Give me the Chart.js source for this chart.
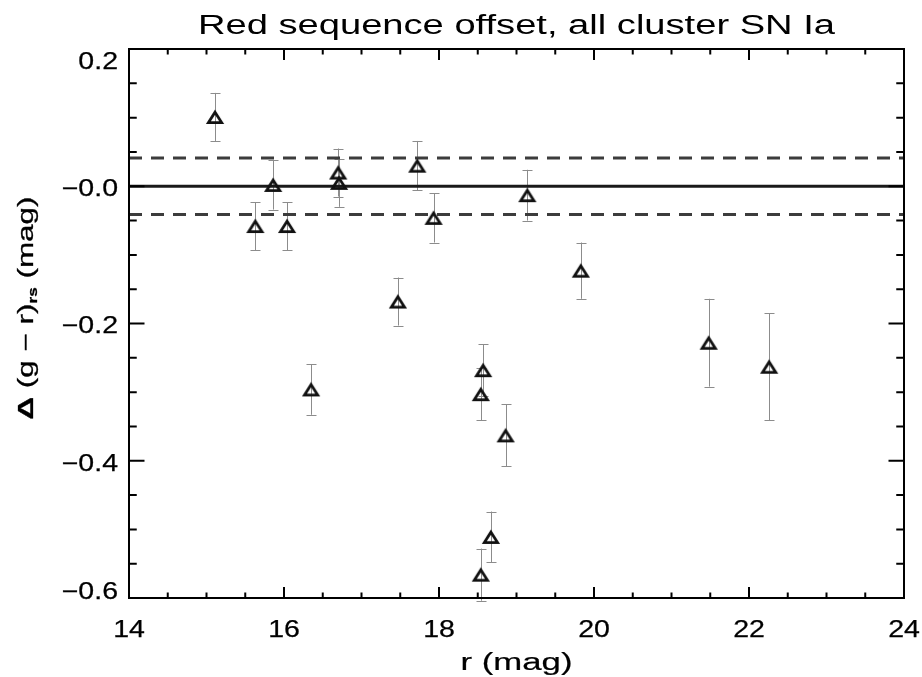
<!DOCTYPE html>
<html>
<head>
<meta charset="utf-8">
<title>Red sequence offset</title>
<script src="https://cdn.jsdelivr.net/npm/chart.js@4.4.1/dist/chart.umd.min.js"></script>
<style>
  html, body { margin: 0; padding: 0; background: #fff; }
  canvas { display: block; }
</style>
</head>
<body>
<canvas id="rsOffset" width="922" height="677"></canvas>
<script>
// r-band magnitude of each cluster SN Ia host
const rMag = [15.11, 15.63, 15.86, 16.04, 16.35, 16.70, 16.71, 17.47, 17.72, 17.93,
              18.54, 18.57, 18.54, 18.67, 18.86, 19.14, 19.83, 21.48, 22.26];
// offset from the cluster red sequence, Δ(g − r)
const colorOffset = [0.101, -0.058, 0.002, -0.058, -0.296, 0.020, 0.005, -0.168, 0.030, -0.046,
                     -0.303, -0.268, -0.566, -0.511, -0.363, -0.013, -0.123, -0.228, -0.263];
const offsetErr = [0.035, 0.035, 0.036, 0.035, 0.037, 0.035, 0.035, 0.035, 0.036, 0.036,
                   0.038, 0.038, 0.038, 0.037, 0.045, 0.037, 0.041, 0.064, 0.078];

// red sequence itself and its scatter band
const zeroLevel = 0;
const bandHalfWidth = 0.041;

const xRange = [14, 24];
const yRange = [-0.6, 0.2];
const xMajorTicks = [14, 16, 18, 20, 22, 24];
const xTickLabels = ['14', '16', '18', '20', '22', '24'];
const yMajorTicks = [-0.6, -0.4, -0.2, 0.0, 0.2];
const yTickLabels = ['\u22120.6', '\u22120.4', '\u22120.2', '\u22120.0', '0.2'];

const chartTitle = 'Red sequence offset, all cluster SN Ia';
const xTitle = 'r (mag)';

const FONT = '"Liberation Sans", Helvetica, Arial, sans-serif';

// open triangle marker, centred on its bounding box
function makeTriangle() {
  const c = document.createElement('canvas');
  c.width = 20;
  c.height = 18;
  const g = c.getContext('2d');
  g.lineWidth = 2.8;
  g.lineJoin = 'miter';
  g.strokeStyle = '#111';
  g.beginPath();
  g.moveTo(10, 4.2);
  g.lineTo(16.6, 14.6);
  g.lineTo(3.4, 14.6);
  g.closePath();
  g.stroke();
  return c;
}

// text stretched horizontally by sx; an optional hairline stroke adds weight
function drawText(ctx, text, x, y, size, align, sx, stroke) {
  ctx.save();
  ctx.font = size + 'px ' + FONT;
  ctx.textAlign = align;
  ctx.textBaseline = 'alphabetic';
  ctx.translate(x, y);
  ctx.scale(sx, 1);
  ctx.fillText(text, 0, 0);
  if (stroke) {
    ctx.lineWidth = stroke;
    ctx.strokeText(text, 0, 0);
  }
  ctx.restore();
}

function fitScale(ctx, text, size, width) {
  ctx.save();
  ctx.font = size + 'px ' + FONT;
  const w = ctx.measureText(text).width;
  ctx.restore();
  return width / w;
}

const errorBars = {
  id: 'errorBars',
  beforeDatasetsDraw(chart) {
    const { ctx, scales: { x, y } } = chart;
    ctx.save();
    ctx.strokeStyle = '#8c8c8c';
    ctx.lineWidth = 1;
    rMag.forEach((r, i) => {
      const px = Math.round(x.getPixelForValue(r)) + 0.5;
      const top = y.getPixelForValue(colorOffset[i] + offsetErr[i]);
      const bot = y.getPixelForValue(colorOffset[i] - offsetErr[i]);
      ctx.beginPath();
      ctx.moveTo(px, top);
      ctx.lineTo(px, bot);
      ctx.moveTo(px - 5, Math.round(top) + 0.5);
      ctx.lineTo(px + 5, Math.round(top) + 0.5);
      ctx.moveTo(px - 5, Math.round(bot) + 0.5);
      ctx.lineTo(px + 5, Math.round(bot) + 0.5);
      ctx.stroke();
    });
    ctx.restore();
  }
};

// box frame with inward ticks on all four sides, plus labels
const idlAxes = {
  id: 'idlAxes',
  afterDraw(chart) {
    const { ctx, chartArea: a, scales: { x, y } } = chart;
    ctx.save();
    ctx.strokeStyle = '#000';
    ctx.fillStyle = '#000';
    ctx.lineWidth = 2;
    ctx.strokeRect(a.left, a.top, a.right - a.left, a.bottom - a.top);

    ctx.beginPath();
    for (let i = 1; i < 20; i++) {
      const px = x.getPixelForValue(xRange[0] + i * 0.5);
      const len = i % 4 === 0 ? 11 : 5.5;
      ctx.moveTo(px, a.bottom);
      ctx.lineTo(px, a.bottom - len);
      ctx.moveTo(px, a.top);
      ctx.lineTo(px, a.top + len);
    }
    for (let i = 1; i < 16; i++) {
      const py = y.getPixelForValue(yRange[0] + i * 0.05);
      const len = i % 4 === 0 ? 15.5 : 7.75;
      ctx.moveTo(a.left, py);
      ctx.lineTo(a.left + len, py);
      ctx.moveTo(a.right, py);
      ctx.lineTo(a.right - len, py);
    }
    ctx.stroke();

    // tick labels
    const tickSize = 23;
    const cap = tickSize * 0.72;
    const tickSx = 1.24;
    yMajorTicks.forEach((v, i) => {
      let base = y.getPixelForValue(v) + 1.5 + cap / 2;
      base = Math.min(Math.max(base, a.top + 3 + cap), a.bottom + 1);
      drawText(ctx, yTickLabels[i], a.left - 11, base, tickSize, 'right', tickSx, 0.25);
    });
    xMajorTicks.forEach((v, i) => {
      drawText(ctx, xTickLabels[i], x.getPixelForValue(v), a.bottom + 39, tickSize, 'center', tickSx, 0.25);
    });

    // titles
    const midX = (a.left + a.right) / 2;
    drawText(ctx, chartTitle, midX, 34, 27, 'center', fitScale(ctx, chartTitle, 27, 637));
    drawText(ctx, xTitle, midX, 670, 23, 'center', fitScale(ctx, xTitle, 23, 112), 0.2);

    // rotated y title with subscript
    const parts = [
      { t: '\u0394', size: 22, dy: 0, weight: 'bold' },
      { t: ' (g \u2212 r)', size: 22, dy: 0 },
      { t: 'rs', size: 12, dy: 4, weight: 'bold' },
      { t: ' (mag)', size: 22, dy: 0 }
    ];
    let total = 0;
    parts.forEach(p => {
      ctx.font = (p.weight || 'normal') + ' ' + p.size + 'px ' + FONT;
      p.w = ctx.measureText(p.t).width;
      total += p.w;
    });
    const sy = 223 / total;
    ctx.save();
    ctx.translate(33, 308);
    ctx.rotate(-Math.PI / 2);
    ctx.scale(sy, 1);
    let cx = -total / 2;
    ctx.textAlign = 'left';
    ctx.textBaseline = 'alphabetic';
    ctx.lineWidth = 0.3;
    parts.forEach(p => {
      ctx.font = (p.weight || 'normal') + ' ' + p.size + 'px ' + FONT;
      ctx.fillText(p.t, cx, p.dy);
      ctx.strokeText(p.t, cx, p.dy);
      cx += p.w;
    });
    ctx.restore();
    ctx.restore();
  }
};

const triangle = makeTriangle();
const lineAt = v => [{ x: xRange[0], y: v }, { x: xRange[1], y: v }];

new Chart(document.getElementById('rsOffset'), {
  type: 'scatter',
  data: {
    datasets: [
      {
        label: 'cluster SN Ia',
        data: rMag.map((r, i) => ({ x: r, y: colorOffset[i] })),
        pointStyle: triangle,
        pointRadius: 8,
        pointHoverRadius: 8,
        showLine: false
      },
      {
        type: 'line',
        data: lineAt(zeroLevel),
        borderColor: '#1a1a1a',
        borderWidth: 3,
        pointRadius: 0
      },
      {
        type: 'line',
        data: lineAt(zeroLevel + bandHalfWidth),
        borderColor: '#3c3c3c',
        borderWidth: 3,
        borderDash: [13, 9],
        pointRadius: 0
      },
      {
        type: 'line',
        data: lineAt(zeroLevel - bandHalfWidth),
        borderColor: '#3c3c3c',
        borderWidth: 3,
        borderDash: [13, 9],
        pointRadius: 0
      }
    ]
  },
  options: {
    responsive: false,
    animation: false,
    devicePixelRatio: 1,
    layout: { padding: { left: 129, top: 49, right: 18, bottom: 79 } },
    plugins: {
      legend: { display: false },
      tooltip: { enabled: false }
    },
    scales: {
      x: { type: 'linear', min: xRange[0], max: xRange[1], display: false },
      y: { type: 'linear', min: yRange[0], max: yRange[1], display: false }
    }
  },
  plugins: [errorBars, idlAxes]
});
</script>
</body>
</html>
